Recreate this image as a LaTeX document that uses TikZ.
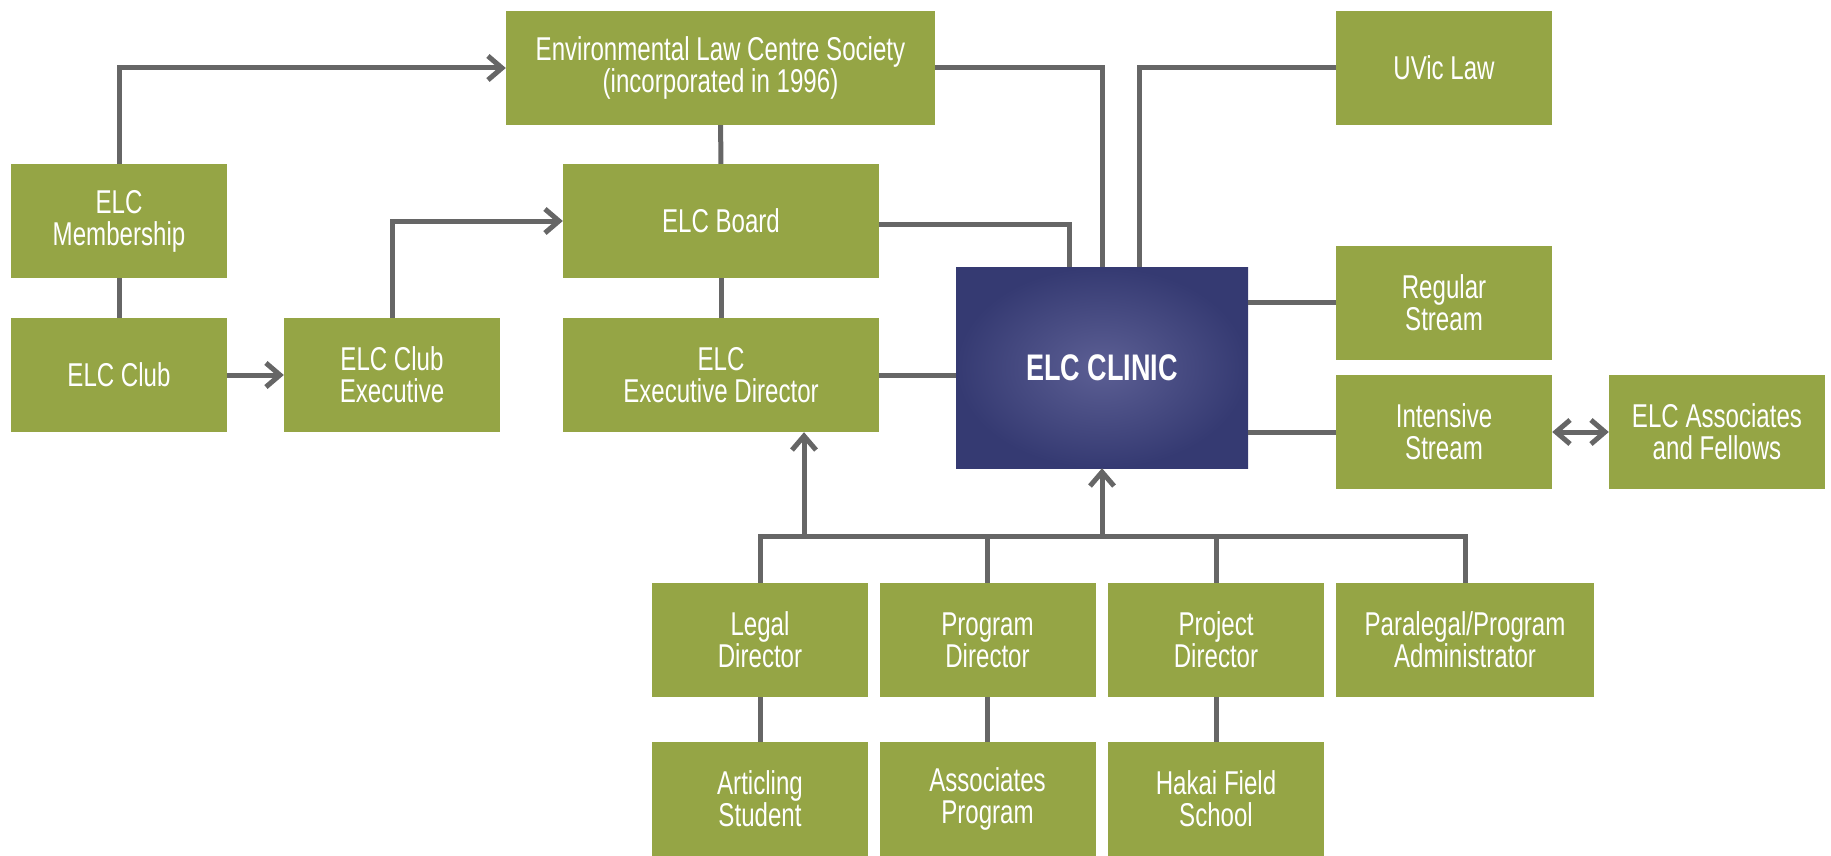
\documentclass[tikz,border=0pt]{standalone}
\usepackage{fontspec}
\setmainfont{Liberation Sans}[FakeStretch=0.73]
\usetikzlibrary{arrows.meta}

\definecolor{elcgreen}{HTML}{95A545}
\definecolor{elcblue}{HTML}{353A72}
\definecolor{elcglow}{HTML}{5C5F94}
\definecolor{elcline}{HTML}{666666}

\begin{document}
\begin{tikzpicture}[x=1pt,y=1pt,
  unit/.style={fill=elcgreen,text=white,align=center,inner sep=0pt,
    minimum width=216pt,minimum height=114pt},
  wideunit/.style={unit,minimum width=316pt},
  clinicbox/.style={inner color=elcglow,outer color=elcblue,text=white,
    minimum width=292pt,minimum height=201pt,font=\fontsize{37}{38}\selectfont\bfseries},
  link/.style={draw=elcline,line width=5pt},
  arr/.style={link,-{Straight Barb[length=14pt,width=24pt,line width=5pt]}},
  dblarr/.style={link,{Straight Barb[length=14pt,width=24pt,line width=5pt]}-{Straight Barb[length=14pt,width=24pt,line width=5pt]}}]
\fontsize{33}{32}\selectfont
\useasboundingbox (0,0) rectangle (1831,-856);

% top rows
\node[unit,minimum width=429pt] (society) at (720.5,-68) {Environmental Law Centre Society\\(incorporated in 1996)};
\node[unit] (uvic) at (1444,-68) {UVic Law};
\node[unit] (member) at (119,-221) {ELC\\Membership};
\node[wideunit] (board) at (721,-221) {ELC Board};
\node[clinicbox] (clinic) at (1102,-367.5) {ELC CLINIC};
\node[unit] (regular) at (1444,-302.5) {Regular\\Stream};
\node[unit] (club) at (119,-375) {ELC Club};
\node[unit] (clubexec) at (392,-375) {ELC Club\\Executive};
\node[wideunit] (execdir) at (721,-375) {ELC\\Executive Director};
\node[unit] (intensive) at (1444,-432) {Intensive\\Stream};
\node[unit] (fellows) at (1717,-432) {ELC Associates\\and Fellows};

% staff
\node[unit] (legal) at (760,-640) {Legal\\Director};
\node[unit] (progdir) at (987.5,-640) {Program\\Director};
\node[unit] (projdir) at (1216,-640) {Project\\Director};
\node[unit,minimum width=258pt] (paralegal) at (1465,-640) {Paralegal/Program\\Administrator};
\node[unit] (articling) at (760,-799) {Articling\\Student};
\node[unit] (assocprog) at (987.5,-799) {Associates\\Program};
\node[unit] (hakai) at (1216,-799) {Hakai Field\\School};

% links
\draw[arr] (member) |- (society);
\draw[arr] (clubexec) |- (board);
\draw[arr] (club) -- (clubexec);
\draw[link] (member) -- (club);
\draw[link] (society) -- (board);
\draw[link] (board) -- (execdir);
\draw[link] (execdir.east) -- (execdir.east -| clinic.west);
\draw[link] (society.east) -| (clinic.north);
\draw[link] (uvic.west) -| ([xshift=37pt]clinic.north);
\draw[link] ([yshift=-3pt]board.east) -| ([xshift=-33pt]clinic.north);
\draw[link] (regular.west) -- (regular.west -| clinic.east);
\draw[link] (intensive.west) -- (intensive.west -| clinic.east);
\draw[dblarr] (intensive) -- (fellows);

% bus
\coordinate (bus) at (0,-536);
\draw[link,line cap=rect] (legal |- bus) -- (paralegal |- bus);
\foreach \n in {legal,progdir,projdir,paralegal}
  \draw[link] (\n.north) -- (\n |- bus);
\draw[arr] ([xshift=83pt]execdir.south |- bus) -- ([xshift=83pt]execdir.south);
\draw[arr] (clinic.south |- bus) -- (clinic.south);
\draw[link] (legal) -- (articling);
\draw[link] (progdir) -- (assocprog);
\draw[link] (projdir) -- (hakai);
\end{tikzpicture}
\end{document}
